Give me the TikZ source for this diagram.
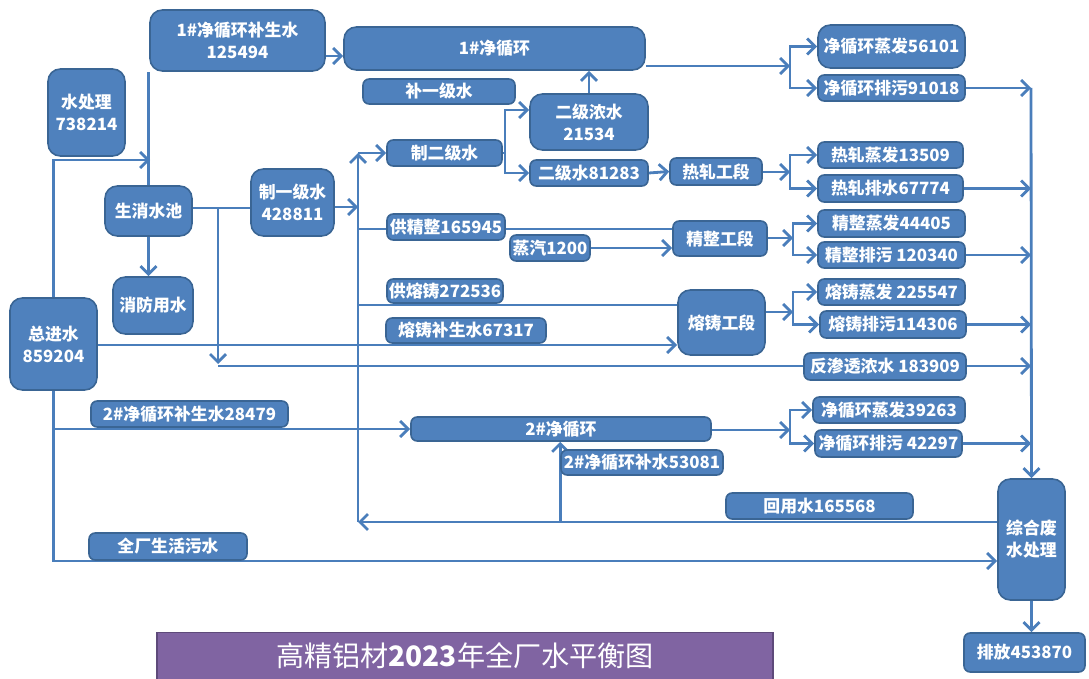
\documentclass[tikz,border=0pt]{standalone}
\usepackage{fontspec}
\setmainfont{Noto Sans CJK SC}
\usetikzlibrary{arrows.meta,backgrounds}
\definecolor{bfill}{HTML}{4F81BD}
\definecolor{bdraw}{HTML}{3A6594}
\definecolor{lcol}{HTML}{4A7EBB}
\definecolor{pfill}{HTML}{8064A2}
\definecolor{pdraw}{HTML}{5E4A7A}
\tikzset{
  box/.style={draw=bdraw,fill=bfill,line width=0.9pt,rounded corners=3.5pt,text=white,
    inner sep=0pt,align=center,font=\fontsize{9.6}{12.5}\selectfont\bfseries},
  big/.style={rounded corners=7pt},
  ln/.style={draw=lcol,line width=1.6pt},
  arr/.style={ln,-{Straight Barb[length=1.6mm,width=3.2mm,line width=1.6pt]}},
}
\newcommand\bx[7][]{\node[box,#1,minimum width={(#4-#2)*0.02cm},minimum height={(#5-#3)*0.02cm}] (#6) at ({(#2+#4)/2},{(#3+#5)/2}) {#7};}
\begin{document}
\begin{tikzpicture}[x=0.02cm,y=-0.02cm]
\useasboundingbox (0,0) rectangle (1089,679);
% nodes
\bx[big]{48}{69}{125}{156}{sc}{水处理\\738214}
\bx[big]{150}{10}{325}{71}{bsa}{1\#净循环补生水\\125494}
\bx[big]{344}{27}{645}{70}{jxa}{1\#净循环}
\bx{363}{79}{515}{104}{byj}{补一级水}
\bx[big]{530}{94}{648}{150}{ejn}{二级浓水\\21534}
\bx{387}{140}{502}{166}{zej}{制二级水}
\bx{530}{160}{648}{186}{ejs}{二级水81283}
\bx{670}{158}{762}{185}{rz}{热轧工段}
\bx{818}{142}{963}{168}{rzf}{热轧蒸发13509}
\bx{818}{175}{963}{202}{rzp}{热轧排水67774}
\bx[big]{818}{25}{965}{68}{zfa}{净循环蒸发56101}
\bx{818}{75}{965}{101}{pwa}{净循环排污91018}
\bx[big]{105}{186}{192}{236}{sx}{生消水池}
\bx[big]{251}{169}{334}{236}{zyj}{制一级水\\428811}
\bx{387}{214}{505}{240}{gjz}{供精整165945}
\bx{510}{235}{590}{261}{zq}{蒸汽1200}
\bx{673}{221}{767}{256}{jz}{精整工段}
\bx{818}{210}{965}{237}{jzf}{精整蒸发44405}
\bx{818}{242}{965}{268}{jzp}{精整排污 120340}
\bx{387}{279}{503}{303}{grz}{供熔铸272536}
\bx{386}{318}{546}{343}{rbs}{熔铸补生水67317}
\bx[big]{678}{290}{765}{355}{rzz}{熔铸工段}
\bx{818}{279}{965}{305}{rzzf}{熔铸蒸发 225547}
\bx{820}{311}{966}{338}{rzzp}{熔铸排污114306}
\bx[big]{10}{298}{97}{390}{zjs}{总进水\\859204}
\bx[big]{113}{277}{193}{334}{xf}{消防用水}
\bx{804}{353}{966}{380}{fst}{反渗透浓水 183909}
\bx{91}{401}{288}{427}{bsb}{2\#净循环补生水28479}
\bx{411}{417}{711}{441}{jxb}{2\#净循环}
\bx{813}{397}{965}{423}{zfb}{净循环蒸发39263}
\bx{815}{430}{962}{457}{pwb}{净循环排污 42297}
\bx{561}{450}{723}{475}{bsc}{2\#净循环补水53081}
\bx{726}{493}{913}{519}{hy}{回用水165568}
\bx{89}{533}{247}{560}{shw}{全厂生活污水}
\bx[big]{998}{479}{1065}{600}{zh}{综合废\\水处理}
\bx{964}{633}{1085}{672}{pf}{排放453870}
\node[draw=pdraw,fill=pfill,line width=0.9pt,text=white,inner sep=0pt,
  minimum width={616*0.02cm},minimum height={47*0.02cm},font=\fontsize{16}{18}\selectfont]
  (title) at (465,656) {高精铝材\textbf{2023}年全厂水平衡图};
% coordinates
\coordinate (col) at (1031,0);
\coordinate (busT) at (358,153);
\coordinate (busB) at (358,522);
\coordinate (b1) at (358,207);
\coordinate (b2) at (358,229);
\coordinate (b3) at (358,305);
\coordinate (j0) at (505,153);
\coordinate (j1) at (790,66);
\coordinate (j2) at (790,172);
\coordinate (j3) at (793,238);
\coordinate (j4) at (793,312);
\coordinate (j5) at (790,430);
\coordinate (j6) at (218,208);
\coordinate (j7) at (218,366);
\coordinate (v1) at (150,160);
\begin{pgfonlayer}{background}
% inlet side
\draw[ln] (sx.north) -- (sx.north |- bsa.south);
\draw[arr] (zjs.north) |- (v1);
\draw[arr] (bsa.east |- 0,56) -- (jxa.west |- 0,56);
\draw[ln] (sx.east |- j6) -- (zyj.west |- j6);
\draw[arr] (j6) -- (218,364);
\draw[arr] (j7) -- (col |- j7);
\draw[arr] (sx.south) -- (sx.south |- xf.north);
\draw[arr] (zjs.south) |- (zh.west |- 0,561);
\draw[arr] (zjs.south |- jxb.west) -- (jxb.west);
\draw[arr] (zjs.east |- 0,345) -- (rzz.west |- 0,345);
% bus
\draw[arr] (zyj.east |- b1) -- (b1);
\draw[arr] (busB) -- (busT);
\draw[arr] (busT) -- (zej.west |- busT);
\draw[ln] (b2) -- (jz.west |- b2);
\draw[ln] (b3) -- (rzz.west |- b3);
\draw[arr] (zq.east) -- (jz.west |- zq.east);
% second-level water
\draw[ln] (zej.east |- j0) -- (j0);
\draw[arr] (j0) |- (ejn.west |- 0,110);
\draw[arr] (j0) |- (ejs.west);
\draw[arr] (ejn.north) -- (ejn.north |- jxa.south);
\draw[arr] (ejs.east) -- (rz.west);
% branches
\draw[arr] (jxa.east |- j1) -- (j1);
\draw[arr] (j1) |- (zfa.west);
\draw[arr] (j1) |- (pwa.west);
\draw[arr] (rz.east |- j2) -- (j2);
\draw[arr] (j2) |- (rzf.west);
\draw[arr] (j2) |- (rzp.west);
\draw[arr] (jz.east |- j3) -- (j3);
\draw[arr] (j3) |- (jzf.west);
\draw[arr] (j3) |- (jzp.west);
\draw[arr] (rzz.east |- j4) -- (j4);
\draw[arr] (j4) |- (rzzf.west);
\draw[arr] (j4) |- (rzzp.west);
\draw[arr] (jxb.east |- j5) -- (j5);
\draw[arr] (j5) |- (zfb.west);
\draw[arr] (j5) |- (pwb.west);
% to collector
\draw[arr] (pwa.east) -- (col |- pwa.east);
\draw[arr] (rzp.east) -- (col |- rzp.east);
\draw[arr] (jzp.east) -- (col |- jzp.east);
\draw[arr] (rzzp.east) -- (col |- rzzp.east);
\draw[arr] (pwb.east) -- (col |- pwb.east);
\draw[arr] (col |- pwa.east) -- (zh.north);
% reuse and outlet
\draw[arr] (zh.west |- busB) -- (busB);
\draw[arr] (bsc.west |- busB) -- (bsc.west |- jxb.south);
\draw[arr] (zh.south) -- (zh.south |- pf.north);
\end{pgfonlayer}
\end{tikzpicture}
\end{document}
